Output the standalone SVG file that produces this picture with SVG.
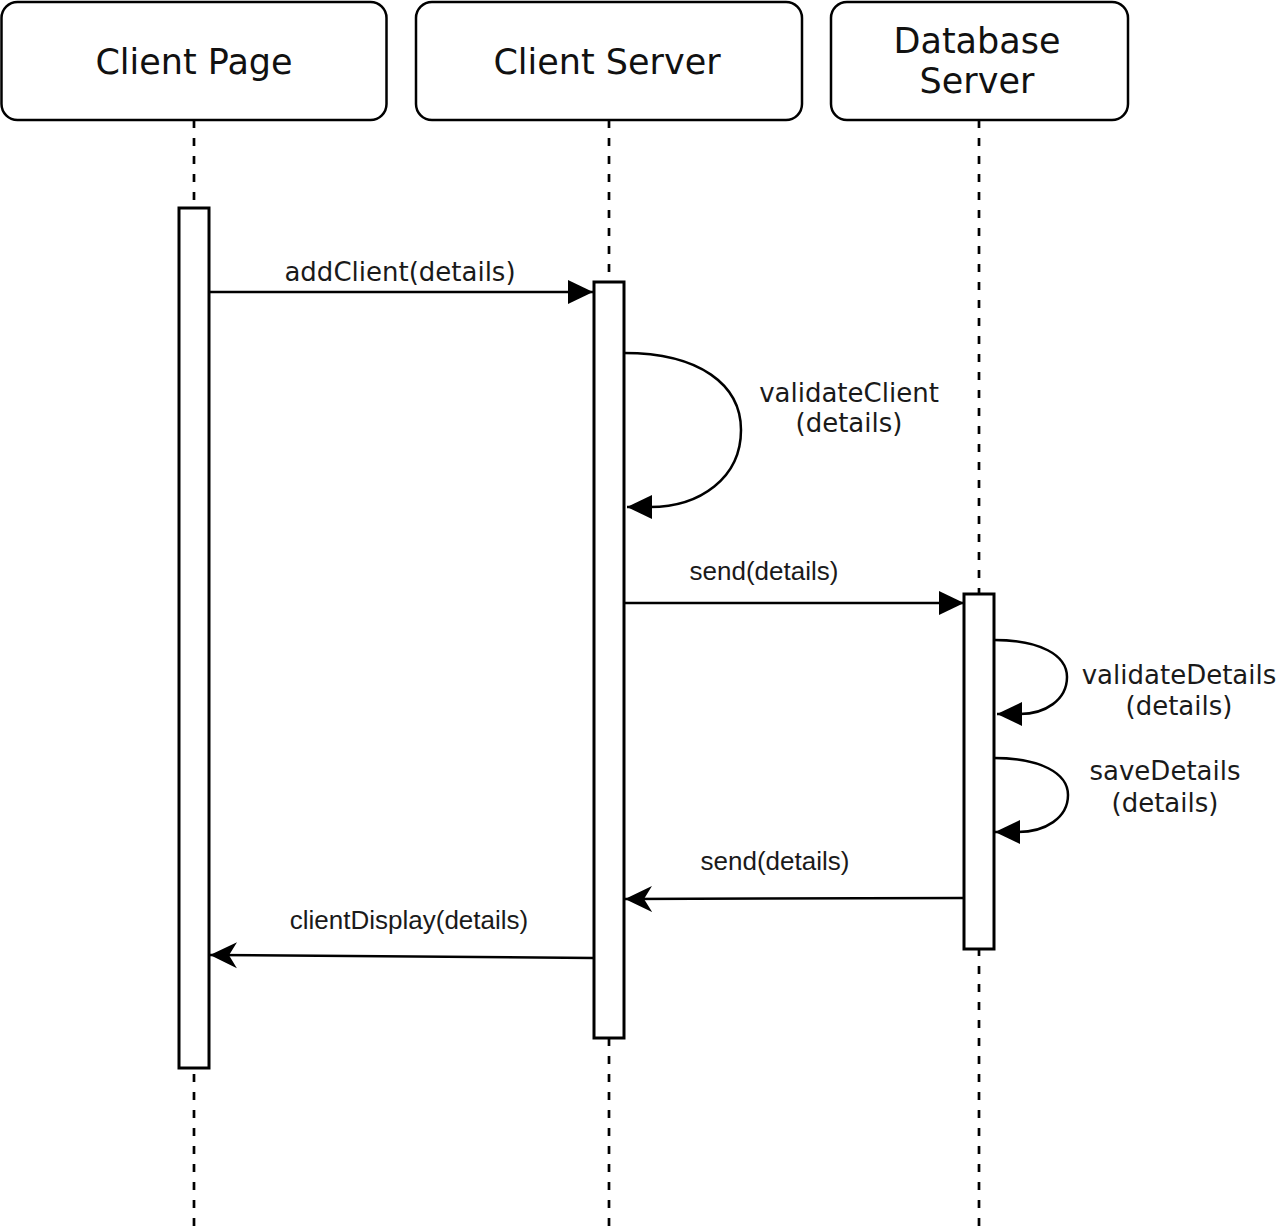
<svg xmlns="http://www.w3.org/2000/svg" width="1280" height="1229" viewBox="0 0 1280 1229">
<style>
.hdr{fill:#fff;stroke:#000;stroke-width:2.5}
.life{stroke:#000;stroke-width:2.7;stroke-dasharray:8 10;fill:none}
.act{fill:#fff;stroke:#000;stroke-width:3}
.msg{stroke:#000;stroke-width:2.5;fill:none}
.ht{font-family:"DejaVu Sans",sans-serif;font-size:35px;fill:#111;text-anchor:middle}
.lt{font-family:"DejaVu Sans",sans-serif;font-size:26px;fill:#1a1a1a;text-anchor:middle}
.at{font-family:"Liberation Sans",Arial,sans-serif;font-size:26px;fill:#1a1a1a;text-anchor:middle}
</style>
<defs>
<marker id="block" markerUnits="userSpaceOnUse" markerWidth="26" markerHeight="26" viewBox="0 0 26 26" refX="25" refY="13" orient="auto">
<path d="M0,1 L25,13 L0,25 z" fill="#000"/>
</marker>
<marker id="classic" markerUnits="userSpaceOnUse" markerWidth="28" markerHeight="30" viewBox="0 0 28 30" refX="27" refY="15" orient="auto">
<path d="M0,2 L27,15 L0,28 L8,15 z" fill="#000"/>
</marker>
</defs>
<rect width="1280" height="1229" fill="#fff"/>
<g id="lifelines">
<line class="life" x1="194" y1="120" x2="194" y2="1229"/>
<line class="life" x1="609" y1="120" x2="609" y2="1229"/>
<line class="life" x1="979" y1="120" x2="979" y2="1229"/>
</g>
<g id="client-page">
<rect class="hdr" x="1.5" y="2" width="385" height="118" rx="16"/>
<text class="ht" x="194" y="74">Client Page</text>
</g>
<g id="client-server">
<rect class="hdr" x="416" y="2" width="386" height="118" rx="16"/>
<text class="ht" x="607" y="74">Client Server</text>
</g>
<g id="database-server">
<rect class="hdr" x="831" y="2" width="297" height="118" rx="16"/>
<text class="ht" x="977" y="53">Database</text>
<text class="ht" x="977" y="93">Server</text>
</g>
<g id="act-client-page"><rect class="act" x="179" y="208" width="30" height="860"/></g>
<g id="act-client-server"><rect class="act" x="594" y="282" width="30" height="756"/></g>
<g id="act-database-server"><rect class="act" x="964" y="594" width="30" height="355"/></g>
<g id="connectors">
<path class="msg" d="M209,292 L593,292" marker-end="url(#block)"/>
<path class="msg" d="M624,353 C700,353 741,385 741,430 C741,478 700,507 650,507 L627,507" marker-end="url(#block)"/>
<path class="msg" d="M624,603 L964,603" marker-end="url(#block)"/>
<path class="msg" d="M994,640 C1040,640 1067,655 1067,677 C1067,700 1045,714 1020,714 L997,714" marker-end="url(#block)"/>
<path class="msg" d="M994,758 C1040,758 1068,773 1068,795 C1068,818 1045,832 1018,832 L995,832" marker-end="url(#block)"/>
<path class="msg" d="M964,898 L625,899" marker-end="url(#classic)"/>
<path class="msg" d="M594,958 L210,955" marker-end="url(#classic)"/>
</g>
<g id="labels">
<text class="lt" x="400" y="281">addClient(details)</text>
<text class="lt" x="849" y="402">validateClient</text>
<text class="lt" x="849" y="432">(details)</text>
<text class="at" x="764" y="580">send(details)</text>
<text class="lt" x="1179" y="684">validateDetails</text>
<text class="lt" x="1179" y="715">(details)</text>
<text class="lt" x="1165" y="780">saveDetails</text>
<text class="lt" x="1165" y="812">(details)</text>
<text class="at" x="775" y="870">send(details)</text>
<text class="at" x="409" y="929">clientDisplay(details)</text>
</g>
</svg>
